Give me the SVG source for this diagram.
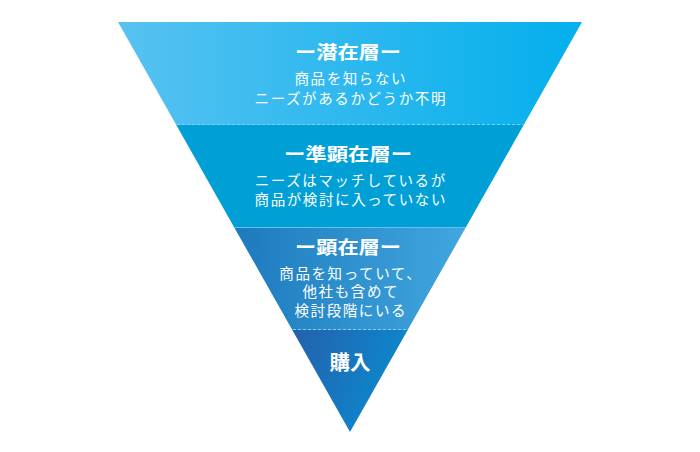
<svg xmlns="http://www.w3.org/2000/svg" width="700" height="452" viewBox="0 0 700 452">
<style>
text{fill:#fff;font-family:"Noto Sans CJK JP","Noto Sans CJK SC",sans-serif;text-anchor:middle}
.t{font-size:18px;font-weight:bold}
.b{font-size:14.5px;letter-spacing:1.6px}
.k{font-size:20px;font-weight:bold}
.dash{stroke:#7fd0f2;stroke-width:1;stroke-dasharray:3 2;fill:none}
</style>
<defs>
<linearGradient id="g1" x1="118" y1="0" x2="582" y2="0" gradientUnits="userSpaceOnUse">
<stop offset="0" stop-color="#57c2f1"/><stop offset="1" stop-color="#03afec"/>
</linearGradient>
<linearGradient id="g3" x1="234" y1="0" x2="466" y2="0" gradientUnits="userSpaceOnUse">
<stop offset="0" stop-color="#1d7abd"/><stop offset="1" stop-color="#41a7df"/>
</linearGradient>
<linearGradient id="g4" x1="292" y1="330" x2="408" y2="380" gradientUnits="userSpaceOnUse">
<stop offset="0" stop-color="#2560ab"/><stop offset="1" stop-color="#0a8bd0"/>
</linearGradient>
</defs>
<g id="layer1">
<polygon points="118,22 582,22 523.7,125 176.3,125" fill="url(#g1)"/>
<text class="t" x="348" y="58.5" textLength="106" lengthAdjust="spacingAndGlyphs">ー潜在層ー</text>
<text class="b" x="350.8" y="84">商品を知らない</text>
<text class="b" x="350.8" y="103.5">ニーズがあるかどうか不明</text>
</g>
<g id="layer2">
<polygon points="176.3,125 523.7,125 466,227 234,227" fill="#00a0d7"/>
<text class="t" x="348" y="161" textLength="128" lengthAdjust="spacingAndGlyphs">ー準顕在層ー</text>
<text class="b" x="350.8" y="185.5">ニーズはマッチしているが</text>
<text class="b" x="350.8" y="204.5">商品が検討に入っていない</text>
</g>
<g id="layer3">
<polygon points="234,227 466,227 407.7,330 292.3,330" fill="url(#g3)"/>
<text class="t" x="348" y="254" textLength="106" lengthAdjust="spacingAndGlyphs">ー顕在層ー</text>
<text class="b" x="350.8" y="278.5">商品を知っていて、</text>
<text class="b" x="350.8" y="297">他社も含めて</text>
<text class="b" x="350.8" y="315.5">検討段階にいる</text>
</g>
<g id="layer4">
<polygon points="292.3,330 407.7,330 350,432" fill="url(#g4)"/>
<text class="k" x="350" y="369.5" textLength="41" lengthAdjust="spacingAndGlyphs">購入</text>
</g>
<g id="connectors">
<line class="dash" x1="177" y1="124.5" x2="523" y2="124.5"/>
<line x1="234.5" y1="227.5" x2="465.5" y2="227.5" stroke="#5fc3ec" stroke-width="1"/>
<line class="dash" x1="293" y1="329.5" x2="407" y2="329.5"/>
</g>
</svg>
